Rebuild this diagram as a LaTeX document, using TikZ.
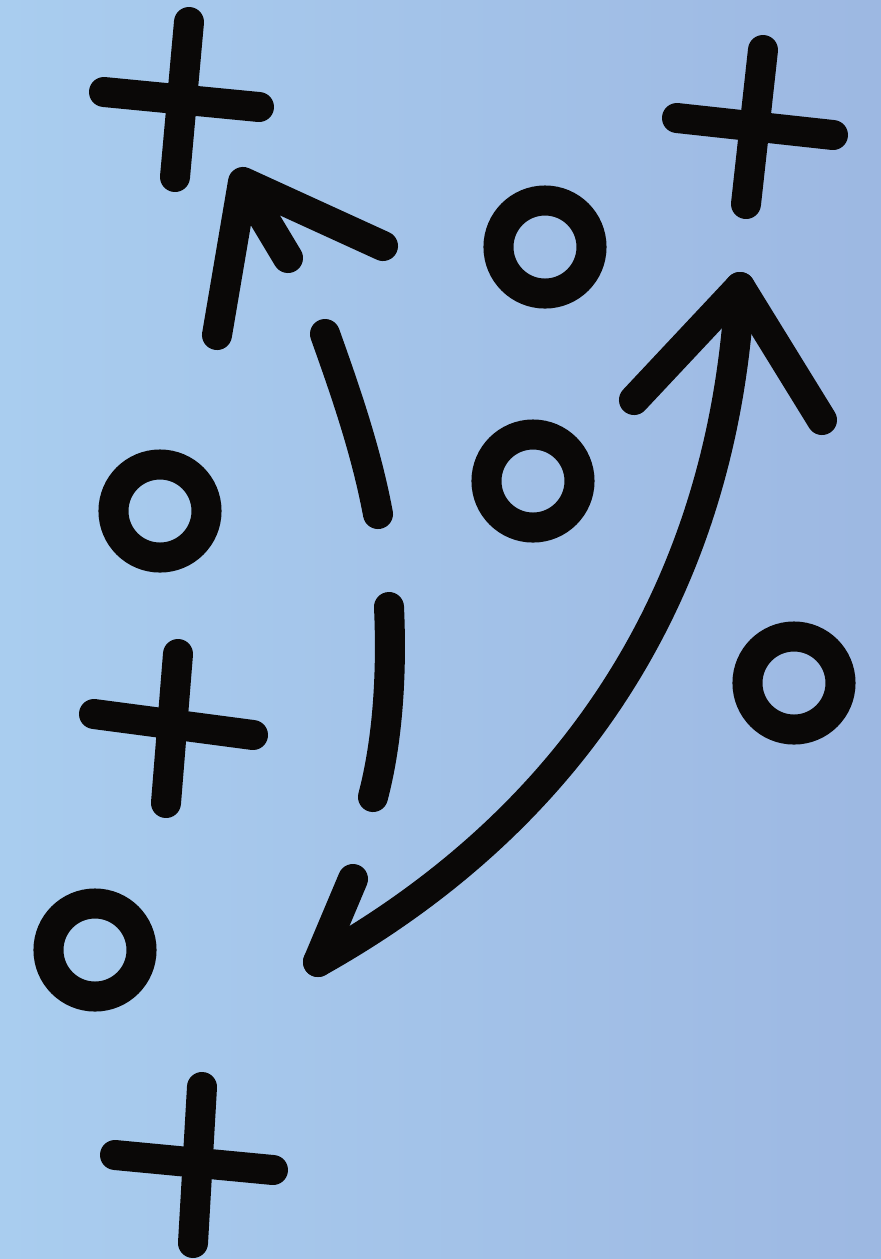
\documentclass[tikz,border=0pt]{standalone}
\usetikzlibrary{calc}
\definecolor{skyleft}{HTML}{A9CDEF}
\definecolor{skyright}{HTML}{9DB8E2}
\definecolor{ink}{HTML}{0A0807}
\tikzset{
  chalk/.style={draw=ink,line width=0.30cm,line cap=round,line join=round},
  ring/.style={draw=ink,line width=0.30cm},
}
\begin{document}
\begin{tikzpicture}[x=0.01cm,y=-0.01cm]
    \useasboundingbox (0,0) rectangle (881,1259);
    \shade[left color=skyleft,right color=skyright] (0,0) rectangle (881,1259);
    % crosses
    \draw[chalk] (189,22) -- (175,177);
    \draw[chalk] (104,92) -- (259,107);
    \draw[chalk] (763,50) -- (746,204);
    \draw[chalk] (677,118) -- (833,135);
    \draw[chalk] (178,654) -- (166,803);
    \draw[chalk] (94,714) -- (253,735);
    \draw[chalk] (202,1087) -- (193,1243);
    \draw[chalk] (115,1155) -- (273,1170);
    % rings
    \draw[ring] (545,247) circle [radius=0.465cm];
    \draw[ring] (160,511) circle [radius=0.465cm];
    \draw[ring] (533,481) circle [radius=0.465cm];
    \draw[ring] (794,683) circle [radius=0.465cm];
    \draw[ring] (95,950) circle [radius=0.465cm];
    % short route with arrow head
    \coordinate (tipA) at (243,182);
    \draw[chalk] (217,335) -- (tipA) -- (383,246);
    \draw[chalk] (252,198) -- (288,258);
    \draw[chalk] (325,334) .. controls (345,390) and (366,450) .. (378,514);
    \draw[chalk] (389,607) .. controls (392,672) and (388,740) .. (373,797);
    % long route with two heads
    \coordinate (tipB) at (318,962);
    \coordinate (tipC) at (740,287);
    \draw[chalk] (tipB) .. controls (545,835) and (722,620) .. (tipC);
    \draw[chalk] (353,879) -- (tipB);
    \draw[chalk] (634,400) -- (tipC) -- (822,420);
\end{tikzpicture}
\end{document}
